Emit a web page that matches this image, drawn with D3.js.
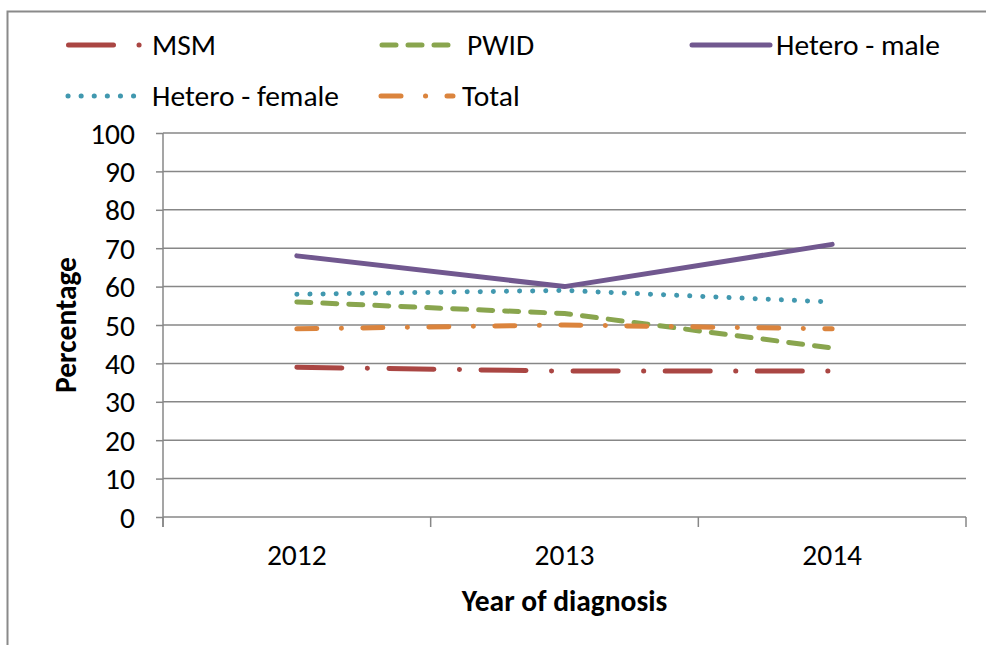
<!DOCTYPE html>
<html>
<head>
<meta charset="utf-8">
<script src="https://cdn.jsdelivr.net/npm/d3@7"></script>
<style>
  body { margin: 0; background: #fff; }
  svg text { font-family: Carlito, Calibri, Lato, "Open Sans", sans-serif; fill: #000; }
</style>
</head>
<body>
<div id="chart"></div>
<script>
// HIV diagnoses by exposure group, percentage per year

var years = ["2012", "2013", "2014"];
var yTicks = [0, 10, 20, 30, 40, 50, 60, 70, 80, 90, 100];

var seriesNames = ["MSM", "PWID", "Hetero - male", "Hetero - female", "Total"];
var msm = [39, 38, 38];
var pwid = [56, 53, 44];
var heteroMale = [68, 60, 71];
var heteroFemale = [58, 59, 56];
var total = [49, 50, 49];

var param = {
  width: 986, height: 645,
  left: 163, right: 966, top: 133, bottom: 517,
  lineW: 5,
  font: "29.5px"
};

var styles = {
  "MSM": { color: "#AA4643", dash: "45,25.5,0.1,21.5" },
  "PWID": { color: "#89A54E", dash: "14,12" },
  "Hetero - male": { color: "#71588F", dash: null },
  "Hetero - female": { color: "#4198AF", dash: "0.1,13" },
  "Total": { color: "#DB843D", dash: "20,24.5,0.1,21.4" }
};

var seriesValues = [msm, pwid, heteroMale, heteroFemale, total];
var series = seriesNames.map(function(n, i){ return { name: n, values: seriesValues[i] }; });

var svg = d3.select("#chart").append("svg")
    .attr("width", param.width)
    .attr("height", param.height);

// outer frame
svg.append("rect")
  .attr("x", 7.5).attr("y", 11.5)
  .attr("width", 1100).attr("height", 800)
  .attr("fill", "none").attr("stroke", "#8a8a8a").attr("stroke-width", 2);

var x = d3.scaleBand().domain(years).range([param.left, param.right]);
var y = d3.scaleLinear().domain([0, 100]).range([param.bottom, param.top]);

// gridlines
svg.append("g")
  .selectAll("line").data(yTicks.slice(1)).enter().append("line")
  .attr("x1", param.left).attr("x2", param.right)
  .attr("y1", function(d){ return y(d); }).attr("y2", function(d){ return y(d); })
  .attr("stroke", "#878787").attr("stroke-width", 1.5);

// y axis
var yAxis = svg.append("g")
  .attr("transform", "translate(" + param.left + ",0)")
  .call(d3.axisLeft(y).tickValues(yTicks).tickSize(7).tickPadding(21));
yAxis.select(".domain").remove();
yAxis.selectAll(".tick line").attr("stroke", "#878787").attr("stroke-width", 1.5);
yAxis.selectAll("text").style("font-size", param.font).attr("dy", "0.34em");
svg.append("line")
  .attr("x1", param.left).attr("x2", param.left)
  .attr("y1", param.top).attr("y2", param.bottom + 10)
  .attr("stroke", "#878787").attr("stroke-width", 1.5);

// x axis
svg.append("line")
  .attr("x1", param.left).attr("x2", param.right)
  .attr("y1", param.bottom).attr("y2", param.bottom)
  .attr("stroke", "#878787").attr("stroke-width", 1.5);
var bounds = years.map(function(d){ return x(d); }).concat([param.right]);
svg.append("g").selectAll("line").data(bounds).enter().append("line")
  .attr("x1", function(d){ return d; }).attr("x2", function(d){ return d; })
  .attr("y1", param.bottom).attr("y2", param.bottom + 10)
  .attr("stroke", "#878787").attr("stroke-width", 1.5);
svg.append("g").selectAll("text").data(years).enter().append("text")
  .attr("x", function(d){ return x(d) + x.bandwidth() / 2; })
  .attr("y", 565)
  .attr("text-anchor", "middle")
  .style("font-size", param.font)
  .text(function(d){ return d; });

// axis titles
svg.append("text")
  .attr("x", (param.left + param.right) / 2).attr("y", 611)
  .attr("text-anchor", "middle")
  .style("font-size", param.font).style("font-weight", "bold")
  .text("Year of diagnosis");
svg.append("text")
  .attr("transform", "translate(76," + (param.top + param.bottom) / 2 + ") rotate(-90)")
  .attr("text-anchor", "middle")
  .style("font-size", param.font).style("font-weight", "bold")
  .text("Percentage");

// lines
var line = d3.line()
  .x(function(d, i){ return x(years[i]) + x.bandwidth() / 2; })
  .y(function(d){ return y(d); });

svg.append("g").selectAll("path").data(series).enter().append("path")
  .attr("d", function(d){ return line(d.values); })
  .attr("fill", "none")
  .attr("stroke", function(d){ return styles[d.name].color; })
  .attr("stroke-width", param.lineW)
  .attr("stroke-linecap", "round")
  .attr("stroke-linejoin", "round")
  .attr("stroke-dasharray", function(d){ return styles[d.name].dash; });

// legend
var legendPos = [
  { x: 68.5, y: 45, len: 72, tx: 152 },
  { x: 382, y: 45, len: 66, tx: 467 },
  { x: 692, y: 45, len: 78, tx: 776 },
  { x: 68, y: 96, len: 66, tx: 152 },
  { x: 381, y: 96, len: 72, tx: 462 }
];
var legend = svg.append("g").selectAll("g").data(series).enter().append("g");
legend.append("line")
  .attr("x1", function(d, i){ return legendPos[i].x; })
  .attr("x2", function(d, i){ return legendPos[i].x + legendPos[i].len; })
  .attr("y1", function(d, i){ return legendPos[i].y; })
  .attr("y2", function(d, i){ return legendPos[i].y; })
  .attr("stroke", function(d){ return styles[d.name].color; })
  .attr("stroke-width", param.lineW)
  .attr("stroke-linecap", "round")
  .attr("stroke-dasharray", function(d){ return styles[d.name].dash; });
legend.append("text")
  .attr("x", function(d, i){ return legendPos[i].tx; })
  .attr("y", function(d, i){ return legendPos[i].y + 10; })
  .style("font-size", param.font)
  .text(function(d){ return d.name; });
</script>
</body>
</html>
